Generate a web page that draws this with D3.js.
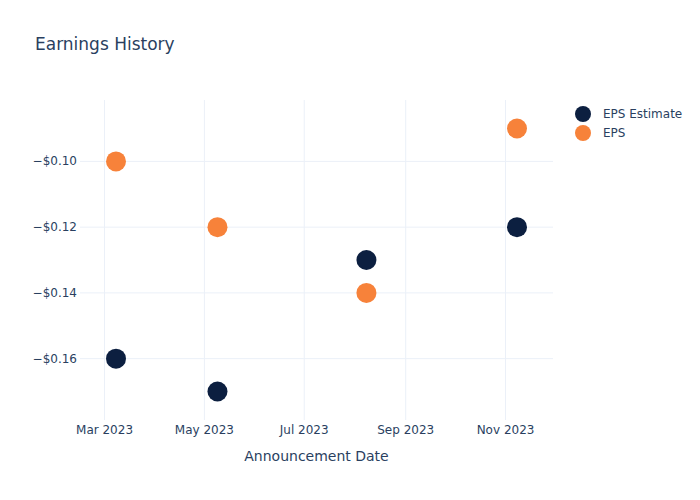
<!DOCTYPE html>
<html><head><meta charset="utf-8">
<script src="https://cdn.jsdelivr.net/npm/d3@7"></script>
<style>body{margin:0;background:#fff}svg{font-family:"DejaVu Sans",Verdana,sans-serif}</style>
</head><body><svg id="c" width="700" height="500"></svg>
<script>
const dates = ["2023-03-08","2023-05-09","2023-08-08","2023-11-08"];
const epsEstimate = [-0.16,-0.17,-0.13,-0.12];
const eps = [-0.10,-0.12,-0.14,-0.09];
const xTicks = ["2023-03-01","2023-05-01","2023-07-01","2023-09-01","2023-11-01"];
const yTicks = [-0.10,-0.12,-0.14,-0.16];
const seriesNames = ["EPS Estimate","EPS"];
const colors = ["#0c1f40","#f7823a"];

const svg = d3.select("#c");
const L=80,R=553,T=100,B=420, padX=36, padY=28.5;
const parse = d3.timeParse("%Y-%m-%d");
const dd = dates.map(parse);
const x = d3.scaleTime().domain(d3.extent(dd)).range([L+padX,R-padX]);
const allY = epsEstimate.concat(eps);
const y = d3.scaleLinear().domain(d3.extent(allY)).range([B-padY,T+padY]);
const txt="#2a3f5f", grid="#ebf0f8";

svg.append("text").attr("x",35).attr("y",50).attr("fill",txt).attr("font-size",17).text("Earnings History");

const g = svg.append("g");
xTicks.map(parse).forEach(t=>{
  g.append("line").attr("x1",x(t)).attr("x2",x(t)).attr("y1",T).attr("y2",B).attr("stroke",grid).attr("stroke-width",1);
  g.append("text").attr("x",x(t)).attr("y",434).attr("text-anchor","middle").attr("fill",txt).attr("font-size",12).text(d3.timeFormat("%b %Y")(t));
});
yTicks.forEach(v=>{
  g.append("line").attr("x1",L).attr("x2",R).attr("y1",y(v)).attr("y2",y(v)).attr("stroke",grid).attr("stroke-width",1);
  g.append("text").attr("x",77).attr("y",y(v)+4).attr("text-anchor","end").attr("fill",txt).attr("font-size",12).text("\u2212$"+Math.abs(v).toFixed(2));
});
svg.append("text").attr("x",(L+R)/2).attr("y",461).attr("text-anchor","middle").attr("fill",txt).attr("font-size",14).text("Announcement Date");

[epsEstimate,eps].forEach((s,i)=>{
  svg.append("g").selectAll("circle").data(s).join("circle")
    .attr("cx",(d,j)=>x(dd[j])).attr("cy",d=>y(d)).attr("r",10).attr("fill",colors[i]);
});

seriesNames.forEach((n,i)=>{
  const ly=114+i*19;
  svg.append("circle").attr("cx",583).attr("cy",ly).attr("r",8).attr("fill",colors[i]);
  svg.append("text").attr("x",603).attr("y",ly+4).attr("fill",txt).attr("font-size",12).text(n);
});
</script></body></html>
